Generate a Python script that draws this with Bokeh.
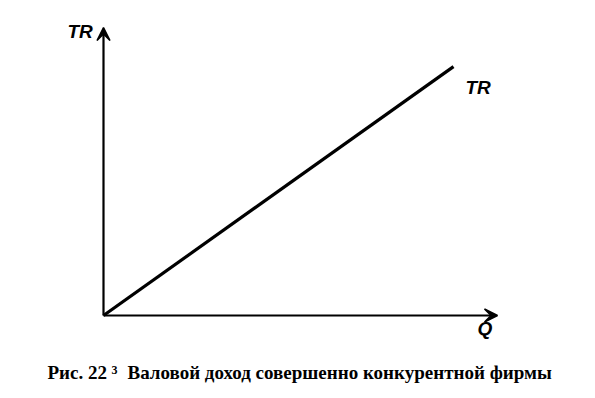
from bokeh.plotting import figure
from bokeh.models import Arrow, VeeHead, Label, Range1d
from bokeh.embed import file_html
from bokeh.resources import INLINE

# Data (arbitrary units)
q = [0, 10]
tr = [0, 7.11]
curve_label = "TR"
x_axis_label = "Q"
y_axis_label = "TR"
caption_main = "Рис. 22"
caption_sup = "3"
caption_text = "Валовой доход совершенно конкурентной фирмы"

U = 35.0  # px per unit
p = figure(width=595, height=398, output_backend="svg", toolbar_location=None,
           x_range=Range1d(-103 / U, (595 - 103) / U),
           y_range=Range1d(-(398 - 315) / U, 315 / U),
           min_border=0, min_border_left=0, min_border_right=0,
           min_border_top=0, min_border_bottom=0)
p.axis.visible = False
p.grid.visible = False
p.outline_line_color = None
p.background_fill_color = "white"
p.border_fill_color = "white"

# axes with arrows
xmax = (497 - 103) / U
ymax = (315 - 27) / U
p.add_layout(Arrow(end=VeeHead(size=13, line_color="black", fill_color="black", line_width=1.5),
                   x_start=0, y_start=0, x_end=xmax, y_end=0,
                   line_width=2.2, line_color="black"))
p.add_layout(Arrow(end=VeeHead(size=13, line_color="black", fill_color="black", line_width=1.5),
                   x_start=0, y_start=0, x_end=0, y_end=ymax,
                   line_width=2.2, line_color="black"))

p.line(q, tr, line_width=3.2, line_color="black")

sans = "Liberation Sans"
p.add_layout(Label(x=-36 / U, y=(315 - 41) / U, text=y_axis_label, text_font=sans,
                   text_font_size="19px", text_font_style="bold italic", text_color="black"))
p.add_layout(Label(x=q[-1] + 12 / U, y=tr[-1] - 31 / U, text=curve_label, text_font=sans,
                   text_font_size="19px", text_font_style="bold italic", text_color="black"))
p.add_layout(Label(x=(477 - 103) / U, y=-(338 - 315) / U, text=x_axis_label, text_font=sans,
                   text_font_size="19px", text_font_style="bold italic", text_color="black"))

serif = "Liberation Serif"
p.add_layout(Label(x=(47 - 103) / U, y=-(382 - 315) / U, text=caption_main, text_font=serif,
                   text_font_size="19px", text_font_style="bold", text_color="black"))
p.add_layout(Label(x=(111 - 103) / U, y=-(373 - 315) / U, text=caption_sup, text_font=serif,
                   text_font_size="12px", text_font_style="bold", text_color="black"))
p.add_layout(Label(x=(127 - 103) / U, y=-(382 - 315) / U, text=caption_text, text_font=serif,
                   text_font_size="19px", text_font_style="bold", text_color="black"))

open("out.html", "w").write(file_html(p, INLINE))
